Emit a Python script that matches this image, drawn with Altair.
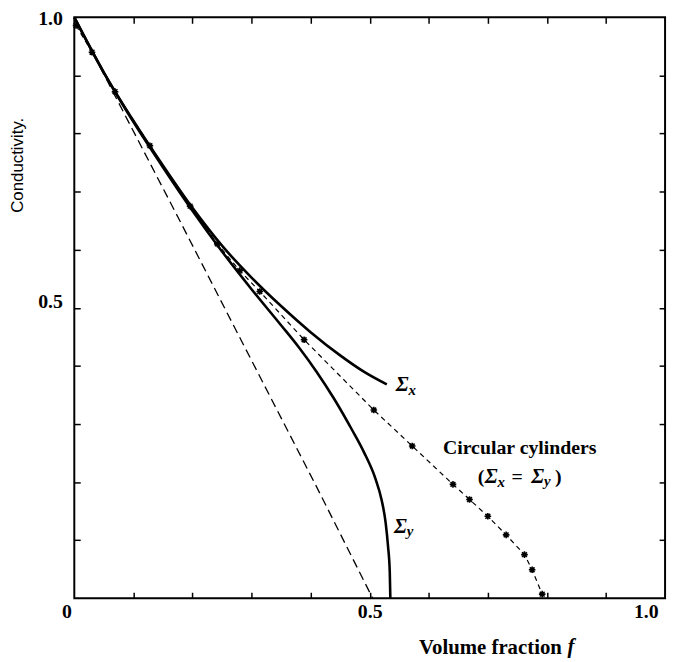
import altair as alt
import pandas as pd

# Sigma_x curve (solid)
sx_f = [0.0, 0.05, 0.10, 0.15, 0.20, 0.25, 0.30, 0.35, 0.40, 0.45, 0.49, 0.529]
sx_c = [1.0, 0.905, 0.822, 0.745, 0.672, 0.607, 0.552, 0.503, 0.458, 0.418, 0.39, 0.368]

# Sigma_y curve (solid)
sy_f = [0.0, 0.05, 0.10, 0.15, 0.20, 0.25, 0.30, 0.35, 0.38, 0.41, 0.44, 0.47,
        0.49, 0.51, 0.52, 0.527, 0.531, 0.534, 0.535]
sy_c = [1.0, 0.905, 0.82, 0.742, 0.667, 0.597, 0.532, 0.470, 0.432, 0.390, 0.343, 0.290,
        0.252, 0.205, 0.17, 0.13, 0.09, 0.045, 0.0]

# Circular cylinders (dashed with asterisks)
cy_f = [0.003, 0.03, 0.069, 0.128, 0.196, 0.242, 0.28, 0.314, 0.389, 0.507, 0.572,
        0.641, 0.669, 0.700, 0.731, 0.762, 0.775, 0.792]
cy_c = [0.986, 0.940, 0.872, 0.779, 0.675, 0.610, 0.564, 0.528, 0.445, 0.324, 0.262,
        0.196, 0.170, 0.141, 0.109, 0.075, 0.049, 0.007]

# Long-dashed straight line
ld_f = [0.0, 0.176, 0.282, 0.411, 0.505]
ld_c = [1.0, 0.655, 0.445, 0.190, 0.0]

x_labels = [0, 0.5, 1.0]
y_labels = [0.5, 1.0]
minor_ticks = [0.1, 0.2, 0.3, 0.4, 0.5, 0.6, 0.7, 0.8, 0.9]

W, H = 597, 587
SERIF = "Liberation Serif"

xs = alt.Scale(domain=[0, 1], nice=False, zero=False)
ys = alt.Scale(domain=[0, 1], nice=False, zero=False)


def tick_axis(orient, offset):
    return alt.Axis(orient=orient, offset=offset, values=minor_ticks, labels=False,
                    domain=False, grid=False, ticks=True, tickSize=6, tickWidth=1.5,
                    tickColor="black", title=None)


x_main_axis = alt.Axis(
    orient="bottom", values=x_labels, grid=False, ticks=False, domain=False,
    labelExpr="datum.value == 0 ? '0' : format(datum.value, '.1f')",
    labelFont=SERIF, labelFontWeight="bold", labelFontSize=20, labelColor="black",
    labelBaseline="top", labelPadding=4,
    labelOffset={"condition": [{"test": "datum.value == 0", "value": -13},
                               {"test": "datum.value == 1", "value": -7}], "value": 0},
    title="Volume fraction", titleFont=SERIF, titleFontWeight="bold", titleFontSize=21,
    titleColor="black", titleX=420, titleY=56, titleBaseline="alphabetic", titleAlign="center",
)
y_main_axis = alt.Axis(
    orient="left", values=y_labels, grid=False, ticks=False, domain=False,
    labelExpr="format(datum.value, '.1f')",
    labelFont=SERIF, labelFontWeight="bold", labelFontSize=20, labelColor="black",
    labelPadding=12,
    labelOffset={"condition": {"test": "datum.value == 0.5", "value": -6}, "value": 1},
    title="Conductivity.", titleFont="Liberation Sans", titleFontWeight="normal",
    titleFontSize=17, titleColor="black", titleAngle=270, titleX=-57, titleY=149,
    titleAlign="center", titleBaseline="middle",
)

ld_df = pd.DataFrame({"f": ld_f, "c": ld_c})
sx_df = pd.DataFrame({"f": sx_f, "c": sx_c})
sy_df = pd.DataFrame({"f": sy_f, "c": sy_c})
cy_df = pd.DataFrame({"f": cy_f, "c": cy_c})

straight = alt.Chart(ld_df).mark_line(color="black", strokeWidth=1.3, strokeDash=[9, 5]).encode(
    x=alt.X("f:Q", scale=xs, axis=x_main_axis),
    y=alt.Y("c:Q", scale=ys, axis=y_main_axis),
)

sigx = alt.Chart(sx_df).mark_line(color="black", strokeWidth=2.6, interpolate="monotone").encode(
    x=alt.X("f:Q", scale=xs, axis=tick_axis("top", -H)),
    y=alt.Y("c:Q", scale=ys, axis=tick_axis("right", -W)),
)

sigy = alt.Chart(sy_df).mark_line(color="black", strokeWidth=2.6, interpolate="monotone").encode(
    x=alt.X("f:Q", scale=xs, axis=tick_axis("bottom", -H)),
    y=alt.Y("c:Q", scale=ys, axis=tick_axis("left", -W)),
)

cyl_line = alt.Chart(cy_df).mark_line(color="black", strokeWidth=1.2, strokeDash=[5, 4]).encode(
    x=alt.X("f:Q", scale=xs, axis=None),
    y=alt.Y("c:Q", scale=ys, axis=None),
)

ASTER = "M-1,0L1,0M0,-1L0,1M-0.72,-0.72L0.72,0.72M-0.72,0.72L0.72,-0.72"
cyl_pts = alt.Chart(cy_df).mark_point(shape=ASTER, filled=False, stroke="black",
                                      strokeWidth=1.6, size=45, opacity=1).encode(
    x=alt.X("f:Q", scale=xs, axis=None),
    y=alt.Y("c:Q", scale=ys, axis=None),
)


def label(text, f, c, size, style="normal", weight="bold", align="left", dx=0, dy=0):
    df = pd.DataFrame({"f": [f], "c": [c], "t": [text]})
    return alt.Chart(df).mark_text(
        font=SERIF, fontSize=size, fontStyle=style, fontWeight=weight, align=align,
        baseline="alphabetic", color="black", dx=dx, dy=dy,
    ).encode(
        x=alt.X("f:Q", scale=xs, axis=None),
        y=alt.Y("c:Q", scale=ys, axis=None),
        text="t:N",
    )


labels = [
    label("Σ", 0.544, 0.356, 21, style="italic"),
    label("x", 0.544, 0.356, 15, style="italic", dx=13, dy=4),
    label("Σ", 0.541, 0.112, 21, style="italic"),
    label("y", 0.541, 0.112, 15, style="italic", dx=13, dy=3),
    label("Circular cylinders", 0.754, 0.249, 20, align="center"),
    label("(", 0.683, 0.199, 20),
    label("Σ", 0.683, 0.199, 21, style="italic", dx=7),
    label("x", 0.683, 0.199, 15, style="italic", dx=20, dy=4),
    label("=", 0.683, 0.199, 20, dx=34),
    label("Σ", 0.683, 0.199, 21, style="italic", dx=54),
    label("y", 0.683, 0.199, 15, style="italic", dx=67, dy=3),
    label(")", 0.683, 0.199, 20, dx=78),
    label("f", 0.835, -0.095, 21, style="italic"),
]

chart = alt.layer(straight, sigx, sigy, cyl_line, cyl_pts, *labels).resolve_axis(
    x="independent", y="independent"
).properties(
    width=W, height=H,
    autosize=alt.AutoSizeParams(type="none"),
    padding={"left": 67, "top": 6, "right": 6, "bottom": 58},
    background="white",
).configure_view(stroke="black", strokeWidth=2)

chart.save("out.html", embed_options={"renderer": "svg", "actions": False})
